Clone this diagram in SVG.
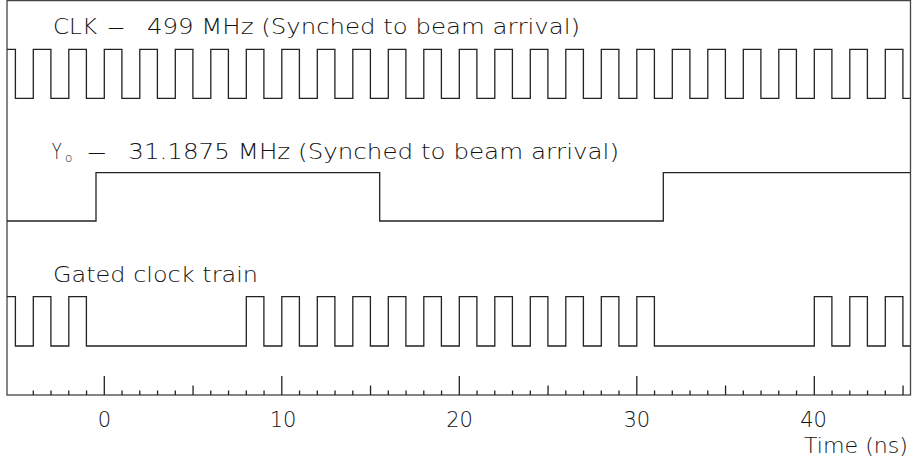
<svg xmlns="http://www.w3.org/2000/svg" width="914" height="465" viewBox="0 0 914 465">
<style>
.t{font-family:"DejaVu Sans","Liberation Sans",sans-serif;font-weight:200;fill:#111;font-size:22px;white-space:pre}
.n{font-family:"DejaVu Sans","Liberation Sans",sans-serif;font-weight:200;fill:#111;font-size:21px;text-anchor:middle}
.sig{fill:none;stroke:#222;stroke-width:1.3}
.frame{fill:none;stroke:#444;stroke-width:1.3}
.tick{stroke:#222;stroke-width:1.3}
</style>
<rect class="frame" x="7" y="0.6" width="903.5" height="394.4"/>
<g id="clk">
<text class="t" x="53" y="34" textLength="44" lengthAdjust="spacingAndGlyphs">CLK</text>
<text class="t" x="107" y="34" textLength="18" lengthAdjust="spacingAndGlyphs">–</text>
<text class="t" x="147" y="34" textLength="433" lengthAdjust="spacingAndGlyphs">499 MHz (Synched to beam arrival)</text>
<path class="sig" d="M7,49.3 H15.4 V98.3 H33.3 V49.3 H50.9 V98.3 H68.8 V49.3 H86.4 V98.3 H104.3 V49.3 H121.9 V98.3 H139.8 V49.3 H157.4 V98.3 H175.3 V49.3 H192.9 V98.3 H210.8 V49.3 H228.4 V98.3 H246.3 V49.3 H263.9 V98.3 H281.8 V49.3 H299.4 V98.3 H317.3 V49.3 H334.9 V98.3 H352.8 V49.3 H370.4 V98.3 H388.3 V49.3 H405.9 V98.3 H423.8 V49.3 H441.4 V98.3 H459.3 V49.3 H476.9 V98.3 H494.8 V49.3 H512.4 V98.3 H530.3 V49.3 H547.9 V98.3 H565.8 V49.3 H583.4 V98.3 H601.3 V49.3 H618.9 V98.3 H636.8 V49.3 H654.4 V98.3 H672.3 V49.3 H689.9 V98.3 H707.8 V49.3 H725.4 V98.3 H743.3 V49.3 H760.9 V98.3 H778.8 V49.3 H796.4 V98.3 H814.3 V49.3 H831.9 V98.3 H849.8 V49.3 H867.4 V98.3 H885.3 V49.3 H902.9 V98.3 H910"/>
</g>
<g id="y0">
<text class="t" x="51.7" y="159" textLength="10" lengthAdjust="spacingAndGlyphs">Y</text>
<text class="t" x="65" y="162" style="font-size:12px">o</text>
<text class="t" x="86.7" y="159" textLength="20" lengthAdjust="spacingAndGlyphs">–</text>
<text class="t" x="128.3" y="159" textLength="490.7" lengthAdjust="spacingAndGlyphs">31.1875 MHz (Synched to beam arrival)</text>
<path class="sig" d="M7,221 H96 V172.7 H379.7 V221 H663.3 V172.7 H910"/>
</g>
<g id="gated">
<text class="t" x="53" y="281.7" textLength="205" lengthAdjust="spacingAndGlyphs">Gated clock train</text>
<path class="sig" d="M7,296.7 H15.4 V346 H33.3 V296.7 H50.9 V346 H68.8 V296.7 H86.4 V346 H246.3 V296.7 H263.9 V346 H281.8 V296.7 H299.4 V346 H317.3 V296.7 H334.9 V346 H352.8 V296.7 H370.4 V346 H388.3 V296.7 H405.9 V346 H423.8 V296.7 H441.4 V346 H459.3 V296.7 H476.9 V346 H494.8 V296.7 H512.4 V346 H530.3 V296.7 H547.9 V346 H565.8 V296.7 H583.4 V346 H601.3 V296.7 H618.9 V346 H636.8 V296.7 H654.4 V346 H814.3 V296.7 H831.9 V346 H849.8 V296.7 H867.4 V346 H885.3 V296.7 H902.9 V346 H910"/>
</g>
<g id="axis">
<path class="tick" d="M33.3,395 v-4.5 M51.05,395 v-4.5 M68.8,395 v-4.5 M86.55,395 v-4.5 M104.3,395 v-19 M122.05,395 v-4.5 M139.8,395 v-4.5 M157.55,395 v-4.5 M175.3,395 v-4.5 M193.05,395 v-9.5 M210.8,395 v-4.5 M228.55,395 v-4.5 M246.3,395 v-4.5 M264.05,395 v-4.5 M281.8,395 v-19 M299.55,395 v-4.5 M317.3,395 v-4.5 M335.05,395 v-4.5 M352.8,395 v-4.5 M370.55,395 v-9.5 M388.3,395 v-4.5 M406.05,395 v-4.5 M423.8,395 v-4.5 M441.55,395 v-4.5 M459.3,395 v-19 M477.05,395 v-4.5 M494.8,395 v-4.5 M512.55,395 v-4.5 M530.3,395 v-4.5 M548.05,395 v-9.5 M565.8,395 v-4.5 M583.55,395 v-4.5 M601.3,395 v-4.5 M619.05,395 v-4.5 M636.8,395 v-19 M654.55,395 v-4.5 M672.3,395 v-4.5 M690.05,395 v-4.5 M707.8,395 v-4.5 M725.55,395 v-9.5 M743.3,395 v-4.5 M761.05,395 v-4.5 M778.8,395 v-4.5 M796.55,395 v-4.5 M814.3,395 v-19 M832.05,395 v-4.5 M849.8,395 v-4.5 M867.55,395 v-4.5 M885.3,395 v-4.5 M903.05,395 v-9.5"/>
<text class="n" x="104.5" y="426.7">0</text>
<text class="n" x="283" y="426.7">10</text>
<text class="n" x="459.5" y="426.7">20</text>
<text class="n" x="636.8" y="426.7">30</text>
<text class="n" x="813.5" y="426.7">40</text>
<text class="t" x="908" y="453" textLength="104" lengthAdjust="spacingAndGlyphs" style="text-anchor:end">Time (ns)</text>
</g>
</svg>
